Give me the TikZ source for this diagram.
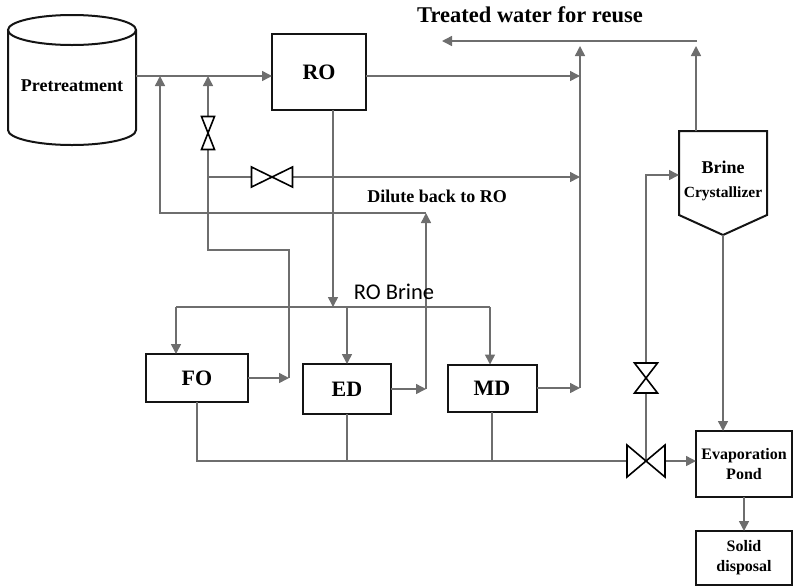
\documentclass[tikz,border=0pt]{standalone}
\usepackage{fontspec}
\setmainfont{Liberation Serif}
\newfontfamily\brinesans{Carlito}
\usepackage{tikz}
\usetikzlibrary{arrows.meta,calc}
\definecolor{pipegray}{HTML}{6E6E6E}
\definecolor{unitblack}{HTML}{141414}

\begin{document}
\begin{tikzpicture}[x=1pt, y=-1pt,
        unit/.style={draw=unitblack, line width=2pt, fill=white, inner sep=0pt, outer sep=0pt, align=center, font=\bfseries},
        unitline/.style={draw=unitblack, line width=2pt, fill=white},
        pipe/.style={draw=pipegray, line width=1.5pt},
        pipearrow/.style={pipe, pipegray, -{Triangle[length=10pt, width=10pt]}},
        valvebox/.style={inner sep=0pt, outer sep=0pt},
        valveline/.style={draw=black, line width=1.6pt, fill=white, line join=miter}]
        \useasboundingbox (0,0) rectangle (794,587);

        % ----------------------------------------------------
        % JUNCTIONS
        % ----------------------------------------------------
        \coordinate (feedout) at (136,76);
        \coordinate (permtop) at (580,46);
        \coordinate (treatR) at (697,41);
        \coordinate (treatL) at (442,41);
        \coordinate (crysttop) at (696,131);
        \coordinate (crystin) at (679,175);
        \coordinate (crystbot) at (723,235);
        \coordinate (rodrain) at (333,110);
        \coordinate (brineL) at (176,307);
        \coordinate (brineR) at (490,307);
        \coordinate (dilR) at (426,213);
        \coordinate (dilL) at (160,213);
        \coordinate (foreturn) at (289,250);
        \coordinate (recycle) at (208,250);

        % ----------------------------------------------------
        % PRETREATMENT TANK
        % ----------------------------------------------------
        \draw[unitline] (8,30) -- (8,130) arc[start angle=180, end angle=0, x radius=64, y radius=15] -- (136,30);
        \draw[unitline] (72,30) ellipse[x radius=64, y radius=15];
        \node[font=\bfseries] (pre) at (72,86) {\fontsize{18pt}{21pt}\selectfont Pretreatment};

        % ----------------------------------------------------
        % UNITS
        % ----------------------------------------------------
        \node[unit, minimum width=94, minimum height=76] (ro) at (319,72) {\fontsize{22pt}{25pt}\selectfont RO};
        \node[unit, minimum width=102, minimum height=48] (fo) at (197,378) {\fontsize{22pt}{25pt}\selectfont FO};
        \node[unit, minimum width=88, minimum height=50] (ed) at (347,389) {\fontsize{22pt}{25pt}\selectfont ED};
        \node[unit, minimum width=89, minimum height=47] (md) at (492,388) {\fontsize{22pt}{25pt}\selectfont MD};
        \node[unit, minimum width=96, minimum height=66, font=\bfseries\fontsize{16pt}{20pt}\selectfont] (pond) at (744,464) {Evaporation\\Pond};
        \node[unit, minimum width=96, minimum height=54, font=\bfseries\fontsize{16pt}{20pt}\selectfont] (solid) at (744,558) {Solid\\disposal};

        \draw[unitline] (679,131) -- (767,131) -- (767,215) -- (723,235) -- (679,215) -- cycle;
        \node[font=\bfseries, align=center] (cryst) at (723,181) {{\fontsize{18pt}{21pt}\selectfont Brine}\\[12pt]{\fontsize{15.5pt}{18pt}\selectfont Crystallizer}};

        % ----------------------------------------------------
        % VALVES
        % ----------------------------------------------------
        \node[valvebox, minimum width=13, minimum height=33] (vv1) at (208,133) {};
        \node[valvebox, minimum width=41, minimum height=20] (hv1) at (272,177) {};
        \node[valvebox, minimum width=23, minimum height=30] (vv2) at (646,378) {};
        \node[valvebox, minimum width=38, minimum height=32] (hv2) at (646,461) {};

        % ----------------------------------------------------
        % RO FEED, PERMEATE AND RECYCLE
        % ----------------------------------------------------
        \draw[pipearrow] (feedout) -- (feedout -| ro.west);
        \draw[pipearrow] (ro.east |- feedout) -- (feedout -| permtop);
        \draw[pipearrow] (md.east) -- (md.east -| permtop);
        \draw[pipearrow] (md.east -| permtop) -- (permtop);
        \draw[pipearrow] (treatR) -- (treatL);
        \draw[pipearrow] (crysttop) -- (crysttop |- permtop);
        \draw[pipearrow] (vv1.north) -- (vv1.north |- feedout);
        \draw[pipearrow] (fo.east) -- (fo.east -| foreturn);
        \draw[pipe] (fo.east -| foreturn) -- (foreturn) -- (recycle) -- (vv1.south);
        \draw[pipe] (hv1.west) -- (hv1.west -| vv1.south);
        \draw[pipearrow] (hv1.east) -- (hv1.east -| permtop);
        \draw[pipearrow] (ed.east) -- (ed.east -| dilR);
        \draw[pipearrow] (ed.east -| dilR) -- (dilR);
        \draw[pipearrow] (dilR) -- (dilL) -- (dilL |- feedout);

        % ----------------------------------------------------
        % RO BRINE
        % ----------------------------------------------------
        \draw[pipearrow] (rodrain) -- (rodrain |- brineL);
        \draw[pipe] (brineL) -- (brineR);
        \draw[pipearrow] (brineL) -- (brineL |- fo.north);
        \draw[pipearrow] (ed.north |- brineL) -- (ed.north);
        \draw[pipearrow] (brineR) -- (brineR |- md.north);

        % ----------------------------------------------------
        % REJECT TO POND AND CRYSTALLIZER
        % ----------------------------------------------------
        \draw[pipe] (fo.south) -- (fo.south |- hv2) -- (hv2.west);
        \draw[pipe] (ed.south) -- (ed.south |- hv2);
        \draw[pipe] (md.south) -- (md.south |- hv2);
        \draw[pipearrow] (hv2.east) -- (hv2.east -| pond.west);
        \draw[pipe] (hv2.center) -- (vv2.south);
        \draw[pipearrow] (vv2.north) -- (vv2.north |- crystin) -- (crystin);
        \draw[pipearrow] (crystbot) -- (crystbot |- pond.north);
        \draw[pipearrow] (pond.south) -- (solid.north);

        \draw[valveline] (vv1.north west) -- (vv1.north east) -- (vv1.south west) -- (vv1.south east) -- cycle;
        \draw[valveline] (hv1.north west) -- (hv1.south east) -- (hv1.north east) -- (hv1.south west) -- cycle;
        \draw[valveline] (vv2.north west) -- (vv2.north east) -- (vv2.south west) -- (vv2.south east) -- cycle;
        \draw[valveline] (hv2.north west) -- (hv2.south east) -- (hv2.north east) -- (hv2.south west) -- cycle;

        % ----------------------------------------------------
        % LABELS
        % ----------------------------------------------------
        \node[font=\bfseries] (treated) at (530,15) {\fontsize{22.5pt}{26pt}\selectfont Treated water for reuse};
        \node[font=\bfseries] (dilute) at (437,196) {\fontsize{18pt}{21pt}\selectfont Dilute back to RO};
        \node (robrine) at (394,292) {\brinesans\fontsize{22.5pt}{26pt}\selectfont RO Brine};
    \end{tikzpicture}
\end{document}
